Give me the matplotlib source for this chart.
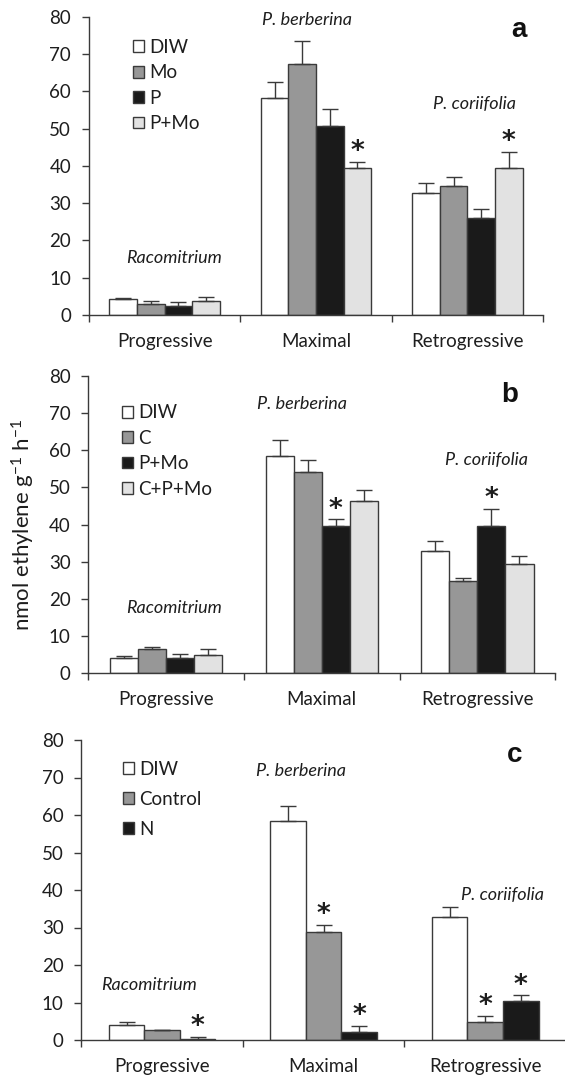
import matplotlib
matplotlib.use('Agg')
import matplotlib.pyplot as plt
from matplotlib.patches import Patch
import numpy as np

# ---------------- data ----------------
categories = ['Progressive', 'Maximal', 'Retrogressive']
y_ticks = [0, 10, 20, 30, 40, 50, 60, 70, 80]

a_series = ['DIW', 'Mo', 'P', 'P+Mo']
a_vals = [[4.2, 58.3, 32.6],
          [2.9, 67.2, 34.6],
          [2.5, 50.8, 26.1],
          [3.75, 39.3, 39.3]]
a_err = [[0.3, 4.1, 2.7],
         [0.9, 6.2, 2.5],
         [0.9, 4.4, 2.3],
         [1.05, 1.8, 4.5]]
a_sig = [(1, 3), (2, 3)]          # (category index, series index)

b_series = ['DIW', 'C', 'P+Mo', 'C+P+Mo']
b_vals = [[4.2, 58.5, 32.8],
          [6.4, 54.1, 24.8],
          [4.0, 39.6, 39.6],
          [4.9, 46.2, 29.3]]
b_err = [[0.4, 4.1, 2.8],
         [0.7, 3.3, 0.8],
         [1.1, 1.8, 4.5],
         [1.5, 3.0, 2.2]]
b_sig = [(1, 2), (2, 2)]

c_series = ['DIW', 'Control', 'N']
c_vals = [[4.1, 58.5, 32.7],
          [2.75, 28.9, 4.7],
          [0.35, 2.1, 10.3]]
c_err = [[0.7, 3.8, 2.7],
         [0.0, 1.8, 1.7],
         [0.45, 1.6, 1.6]]
c_sig = [(0, 2), (1, 1), (1, 2), (2, 1), (2, 2)]

species = ['Racomitrium', 'P. berberina', 'P. coriifolia']
panel_letters = ['a', 'b', 'c']
y_label = 'nmol ethylene g$^{-1}$ h$^{-1}$'

# ---------------- style ----------------
plt.rcParams['font.family'] = ['Lato', 'DejaVu Sans']
plt.rcParams['mathtext.fontset'] = 'custom'
plt.rcParams['mathtext.rm'] = 'Lato'
plt.rcParams['mathtext.it'] = 'Lato:italic'

EDGE = '#3a3a3a'
TEXT = '#1e1e1e'
col4 = ['#ffffff', '#979797', '#1a1a1a', '#e2e2e2']
col3 = ['#ffffff', '#979797', '#1a1a1a']

fig = plt.figure(figsize=(5.65, 10.8), dpi=100)
W, H = 565.0, 1080.0


def axes_px(left, right, top, bottom):
    return fig.add_axes([left / W, (H - bottom) / H, (right - left) / W, (bottom - top) / H])


def draw_panel(ax, series, vals, errs, colors, group_frac, sig, letter,
               species_xy, letter_xy, legend_anchor, legend_spacing):
    n = len(series)
    w = group_frac / n
    x = np.arange(len(categories))
    handles = []
    for i, (name, v, e, col) in enumerate(zip(series, vals, errs, colors)):
        pos = x - group_frac / 2 + w * (i + 0.5)
        ax.bar(pos, v, w, color=col, edgecolor=EDGE, linewidth=1.0, zorder=2)
        ax.errorbar(pos, v, yerr=[np.zeros(len(v)), e], fmt='none', ecolor=EDGE,
                    elinewidth=1.0, capsize=5.5, capthick=1.0, zorder=3)
        handles.append(Patch(facecolor=col, edgecolor=EDGE, linewidth=1.0, label=name))
    for ci, si in sig:
        pos = ci - group_frac / 2 + w * (si + 0.5)
        top = vals[si][ci] + errs[si][ci]
        ax.annotate('*', (pos, top), xytext=(0, 2), textcoords='offset points',
                    ha='center', va='baseline', fontsize=19, fontweight='bold',
                    family='DejaVu Sans', color=TEXT)
    for name, (sx, sy) in zip(species, species_xy):
        ax.text(sx, sy, name, ha='center', va='center', fontsize=13,
                style='italic', color=TEXT)
    ax.text(letter_xy[0], letter_xy[1], letter, ha='center', va='center',
            fontsize=20, fontweight='bold', family='Liberation Sans', color='#111111')

    ax.set_xlim(-0.5, 2.5)
    ax.set_ylim(0, 80)
    ax.set_yticks(y_ticks)
    ax.set_xticks([-0.5, 0.5, 1.5, 2.5])
    ax.set_xticklabels([])
    ax.set_xticks([0, 1, 2], minor=True)
    ax.set_xticklabels(categories, minor=True)
    ax.tick_params(axis='x', which='major', direction='out', length=5, width=1.0, color=EDGE)
    ax.tick_params(axis='x', which='minor', length=0, pad=13, labelsize=13.5, labelcolor=TEXT)
    ax.tick_params(axis='y', direction='out', length=4.8, width=1.0, color=EDGE,
                   pad=8, labelsize=13.5, labelcolor=TEXT)
    for s in ['top', 'right']:
        ax.spines[s].set_visible(False)
    for s in ['left', 'bottom']:
        ax.spines[s].set_color(EDGE)
        ax.spines[s].set_linewidth(1.0)

    ax.legend(handles=handles, loc='upper left', bbox_to_anchor=legend_anchor,
              frameon=False, fontsize=13.5, handlelength=0.6, handleheight=0.6,
              handletextpad=0.3, labelspacing=legend_spacing, borderpad=0,
              borderaxespad=0, labelcolor=TEXT)


ax_a = axes_px(89, 543, 16.7, 315)
ax_b = axes_px(88.3, 555.3, 375.7, 673.3)
ax_c = axes_px(81.3, 566, 740, 1040)

draw_panel(ax_a, a_series, a_vals, a_err, col4, 0.73, a_sig, panel_letters[0],
           [(0.06, 15.4), (0.94, 79.1), (2.05, 56.7)], (2.34, 76.3),
           (0.096, 0.926), 0.45)
draw_panel(ax_b, b_series, b_vals, b_err, col4, 0.72, b_sig, panel_letters[1],
           [(0.05, 17.5), (0.87, 72.4), (2.06, 57.4)], (2.21, 74.7),
           (0.0715, 0.904), 0.45)
draw_panel(ax_c, c_series, c_vals, c_err, col3, 0.66, c_sig, panel_letters[2],
           [(-0.08, 14.7), (0.86, 71.7), (2.11, 38.7)], (2.18, 76.1),
           (0.0854, 0.931), 0.7)

ax_b.set_ylabel(y_label, fontsize=16, color=TEXT)
ax_b.yaxis.set_label_coords(-0.11, 0.5)

fig.savefig('out.png', dpi=100)
